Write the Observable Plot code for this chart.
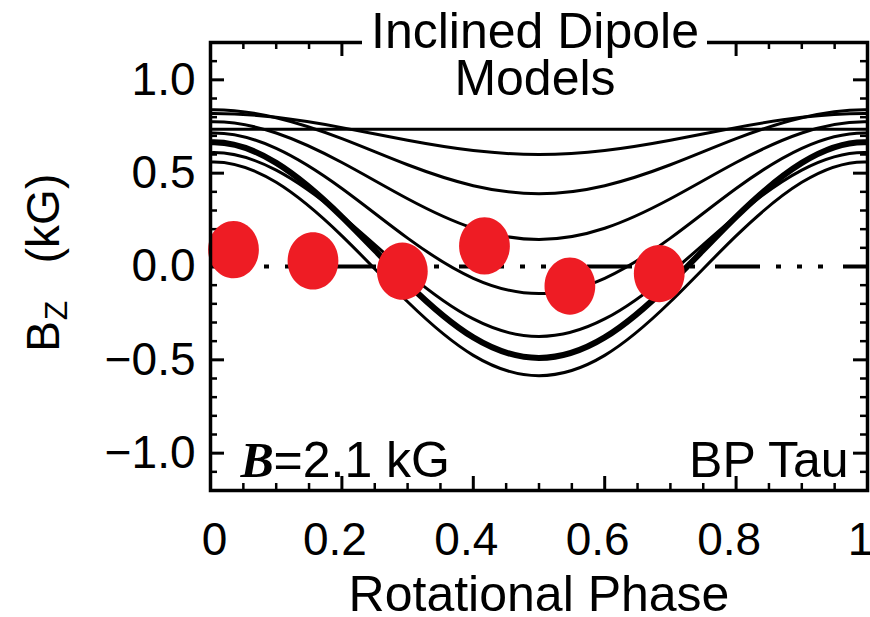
<!DOCTYPE html>
<html>
<head>
<meta charset="utf-8">
<script src="https://cdn.jsdelivr.net/npm/d3@7"></script>
<script src="https://cdn.jsdelivr.net/npm/@observablehq/plot@0.6"></script>
<style>
  html, body { margin: 0; padding: 0; background: white; }
  #chart { width: 870px; height: 617px; overflow: hidden; }
</style>
</head>
<body>
<div id="chart"></div>
<script>
// ---- data ----
const phase = [-0.1, 0, 0.1, 0.2, 0.3, 0.4, 0.5, 0.6, 0.7, 0.8, 0.9, 1.0, 1.1];
const modelFlat  = [0.735, 0.735, 0.735, 0.735, 0.735, 0.735, 0.735, 0.735, 0.735, 0.735, 0.735, 0.735, 0.735];
const model1     = [0.799, 0.82, 0.799, 0.744, 0.676, 0.621, 0.60, 0.621, 0.676, 0.744, 0.799, 0.82, 0.799];
const model2     = [0.797, 0.84, 0.797, 0.685, 0.545, 0.433, 0.39, 0.433, 0.545, 0.685, 0.797, 0.84, 0.797];
const model3     = [0.715, 0.775, 0.715, 0.557, 0.363, 0.205, 0.145, 0.205, 0.363, 0.557, 0.715, 0.775, 0.715];
const model4     = [0.633, 0.715, 0.633, 0.418, 0.152, -0.063, -0.145, -0.063, 0.152, 0.418, 0.633, 0.715, 0.633];
const model5     = [0.516, 0.61, 0.516, 0.270, -0.035, -0.281, -0.375, -0.281, -0.035, 0.270, 0.516, 0.61, 0.516];
const modelThick = [0.555, 0.665, 0.555, 0.266, -0.091, -0.380, -0.49, -0.380, -0.091, 0.266, 0.555, 0.665, 0.555];
const model7     = [0.451, 0.56, 0.451, 0.164, -0.189, -0.476, -0.585, -0.476, -0.189, 0.164, 0.451, 0.56, 0.451];

const obsPhase = [0.035, 0.156, 0.292, 0.417, 0.547, 0.683];
const obsBz    = [0.09, 0.03, -0.025, 0.11, -0.105, -0.038];

const xDomain = [0, 1];
const yDomain = [-1.2, 1.2];
const xMajor = [0, 0.2, 0.4, 0.6, 0.8, 1.0];
const xTickLabels = ["0", "0.2", "0.4", "0.6", "0.8", "1"];
const xMinor = [0.05, 0.1, 0.15, 0.25, 0.3, 0.35, 0.45, 0.5, 0.55, 0.65, 0.7, 0.75, 0.85, 0.9, 0.95];
const yMajor = [-1.0, -0.5, 0.0, 0.5, 1.0];
const yTickLabels = ["\u22121.0", "\u22120.5", "0.0", "0.5", "1.0"];
const yMinor = [-1.2, -1.1, -0.9, -0.8, -0.7, -0.6, -0.4, -0.3, -0.2, -0.1, 0.1, 0.2, 0.3, 0.4, 0.6, 0.7, 0.8, 0.9, 1.1, 1.2];

const titleText = "Inclined Dipole\nModels";
const xTitle = "Rotational Phase";
const starName = "BP Tau";
const fieldSymbol = "B";
const fieldText = "=2.1 kG";

// ---- build tables ----
const thinModels = [modelFlat, model1, model2, model3, model4, model5, model7];
const thinRows = thinModels.flatMap((arr, k) => arr.map((v, i) => ({model: k, phase: phase[i], bz: v})));
const thickRows = modelThick.map((v, i) => ({phase: phase[i], bz: v}));
const obs = obsPhase.map((p, i) => ({phase: p, bz: obsBz[i]}));
const labelOf = d => xTickLabels[xMajor.indexOf(d)];

// ---- layout ----
const W = 870, H = 617;
const mL = 210, mR = 3, mT = 42, mB = 127;
const innerW = W - mL - mR, innerH = H - mT - mB;
const majorLen = 14, minorLen = 7;
const titleGapLeft = 152, titleGapRight = 160; // px insets of the white gap in the top frame
const font = "'Liberation Sans', Arial, Helvetica, sans-serif";

// slightly tall ellipse symbol for the observations
const ellipse = {
  draw(ctx, size) {
    const r = Math.sqrt(size / Math.PI);
    const rx = r * 0.94, ry = r * 1.06, k = 0.5523;
    ctx.moveTo(rx, 0);
    ctx.bezierCurveTo(rx, ry * k, rx * k, ry, 0, ry);
    ctx.bezierCurveTo(-rx * k, ry, -rx, ry * k, -rx, 0);
    ctx.bezierCurveTo(-rx, -ry * k, -rx * k, -ry, 0, -ry);
    ctx.bezierCurveTo(rx * k, -ry, rx, -ry * k, rx, 0);
    ctx.closePath();
  }
};

const axisCommon = {tickSize: 0, tickPadding: 32, fontSize: 46, tickFormat: labelOf, label: null};

const chart = Plot.plot({
  width: W, height: H,
  marginLeft: mL, marginRight: mR, marginTop: mT, marginBottom: mB,
  x: {domain: xDomain},
  y: {domain: yDomain},
  style: {fontFamily: font, background: "white", color: "black", overflow: "visible"},
  marks: [
    // tick marks (inward, all four sides)
    Plot.ruleX(xMajor, {x: d => d, insetTop: innerH - majorLen, stroke: "black", strokeWidth: 3}),
    Plot.ruleX(xMajor, {x: d => d, insetBottom: innerH - majorLen, stroke: "black", strokeWidth: 3}),
    Plot.ruleX(xMinor, {x: d => d, insetTop: innerH - minorLen, stroke: "black", strokeWidth: 2.5}),
    Plot.ruleX(xMinor, {x: d => d, insetBottom: innerH - minorLen, stroke: "black", strokeWidth: 2.5}),
    Plot.ruleY(yMajor, {y: d => d, insetRight: innerW - majorLen, stroke: "black", strokeWidth: 3}),
    Plot.ruleY(yMajor, {y: d => d, insetLeft: innerW - majorLen, stroke: "black", strokeWidth: 3}),
    Plot.ruleY(yMinor, {y: d => d, insetRight: innerW - minorLen, stroke: "black", strokeWidth: 2.5}),
    Plot.ruleY(yMinor, {y: d => d, insetLeft: innerW - minorLen, stroke: "black", strokeWidth: 2.5}),
    // model curves
    Plot.line(thinRows, {x: "phase", y: "bz", z: "model", curve: "natural", stroke: "black", strokeWidth: 3, clip: true}),
    Plot.line(thickRows, {x: "phase", y: "bz", curve: "natural", stroke: "black", strokeWidth: 6, clip: true}),
    // zero line (dash-dot-dot-dot)
    Plot.ruleY([0], {stroke: "black", strokeWidth: 4, strokeDasharray: "45,16,5,16,5,16,5,20", strokeDashoffset: 7}),
    // observations
    Plot.dot(obs, {x: "phase", y: "bz", r: 27, fill: "#ee1c24", stroke: "none", symbol: ellipse}),
    Plot.frame({stroke: "black", strokeWidth: 3.5}),
    // white gap in the top frame behind the title
    Plot.ruleY([yDomain[1]], {stroke: "white", strokeWidth: 30, insetLeft: titleGapLeft, insetRight: titleGapRight}),
    // axis tick labels
    Plot.axisX(xMajor.filter(d => d === 0), {...axisCommon, dx: 4}),
    Plot.axisX(xMajor.filter(d => d !== 0), {...axisCommon, dx: -7}),
    Plot.axisY(yMajor, {tickSize: 0, tickPadding: 15, fontSize: 46, tickFormat: d => yTickLabels[yMajor.indexOf(d)], label: null}),
    Plot.text([xTitle], {frameAnchor: "bottom", lineAnchor: "top", dy: 85, fontSize: 50, fill: "black"}),
    // y title: B_Z  (kG)
    Plot.text(["(kG)"], {frameAnchor: "left", rotate: -90, dx: -166, dy: -48, fontSize: 46, textAnchor: "middle", lineAnchor: "middle"}),
    Plot.text(["B"], {frameAnchor: "left", rotate: -90, dx: -166, dy: 70, fontSize: 46, textAnchor: "middle", lineAnchor: "middle"}),
    Plot.text(["Z"], {frameAnchor: "left", rotate: -90, dx: -154, dy: 44, fontSize: 32, textAnchor: "middle", lineAnchor: "middle"}),
    // annotations
    Plot.text([fieldSymbol], {frameAnchor: "bottom-left", dx: 30, dy: -30, fontSize: 50, textAnchor: "start", lineAnchor: "middle", fontFamily: "'Liberation Serif', 'DejaVu Serif', serif", fontStyle: "italic", fontWeight: "bold"}),
    Plot.text([fieldText], {frameAnchor: "bottom-left", dx: 63, dy: -30, fontSize: 50, textAnchor: "start", lineAnchor: "middle"}),
    Plot.text([starName], {frameAnchor: "bottom-right", dx: -19, dy: -30, fontSize: 50, textAnchor: "end", lineAnchor: "middle"}),
    // title
    Plot.text([titleText], {frameAnchor: "top", dx: -4, dy: -28, lineAnchor: "top", lineHeight: 0.94, fontSize: 50, fill: "black"})
  ]
});
document.getElementById("chart").appendChild(chart);
</script>
</body>
</html>
